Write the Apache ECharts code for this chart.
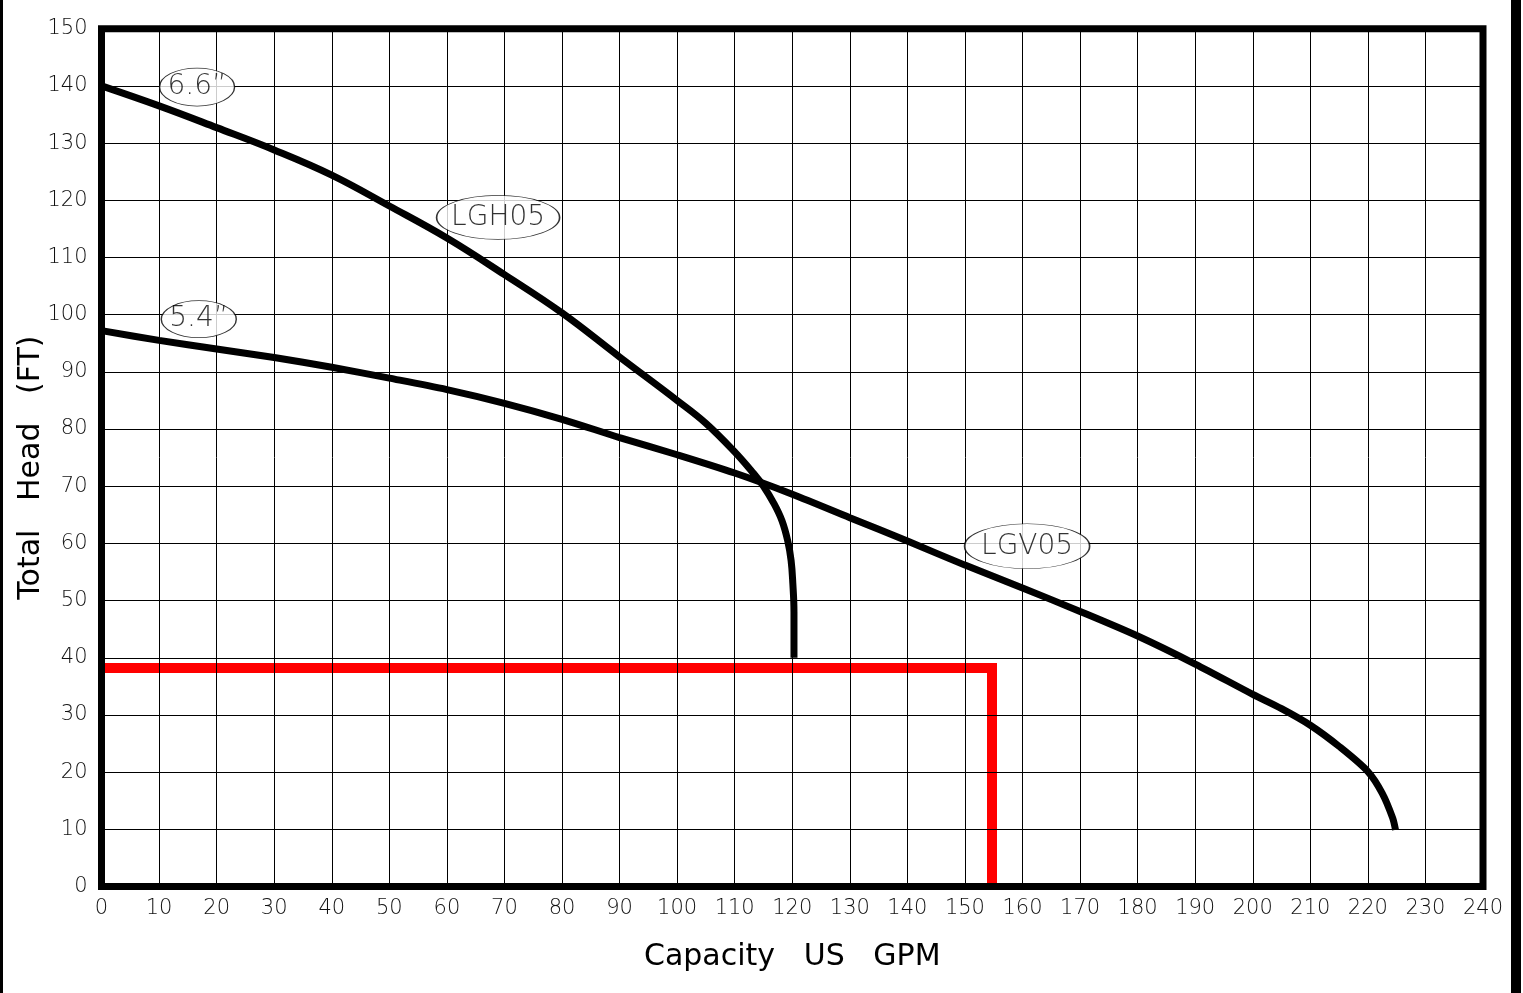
<!DOCTYPE html>
<html>
<head>
<meta charset="utf-8">
<script src="https://cdn.jsdelivr.net/npm/echarts@6/dist/echarts.min.js"></script>
<style>
  html, body { margin: 0; padding: 0; background: #fff; }
  #chart { width: 1523px; height: 993px; }
</style>
</head>
<body>
<div id="chart"></div>
<script>
// pump curves (GPM, FT)
const lgh05 = [
  [0, 140], [10, 136.5], [20, 132.7], [30, 128.8], [40, 124.4], [50, 119],
  [60, 113.4], [70, 107], [80, 100.3], [90, 92.6], [100, 85], [105, 81],
  [110, 76], [113.3, 72.2], [115, 70], [116.8, 67], [118.2, 64], [119.2, 60.5],
  [119.8, 57], [120.1, 53], [120.3, 48], [120.3, 40]
];
const lgv05 = [
  [0, 97.2], [10, 95.5], [20, 94], [30, 92.5], [40, 90.8], [50, 88.9],
  [60, 86.9], [70, 84.5], [80, 81.7], [90, 78.5], [100, 75.5], [110, 72.3],
  [120, 68.6], [130, 64.5], [140, 60.4], [150, 56.2], [160, 52.2], [170, 48.1],
  [180, 43.8], [190, 38.9], [200, 33.6], [205, 31.1], [210, 28.2], [215, 24.5],
  [220, 20.1], [222.5, 16.3], [224.3, 12], [224.8, 9.9]
];
// duty point lines
const dutyLine = [[0, 38.2], [154.7, 38.2], [154.7, 0]];

// curve tags
const tagNames = ['6.6”', '5.4”', 'LGH05', 'LGV05'];
const tagPos = [[16.6, 139.8], [16.9, 99.2], [68.9, 117.0], [160.8, 59.5]];
const tagSize = [[75, 38], [75, 37], [123, 44], [125, 45]];

const chart = echarts.init(document.getElementById('chart'));

const font = 'DejaVu Sans';

chart.setOption({
  animation: false,
  grid: {
    left: 101.5, right: 40, top: 28.7, bottom: 106.5,
    outerBoundsMode: 'none',
    show: true, borderColor: '#000', borderWidth: 7, backgroundColor: 'transparent'
  },
  xAxis: {
    type: 'value', min: 0, max: 240, interval: 10,
    name: 'Capacity   US   GPM', nameLocation: 'middle', nameGap: 56, nameMoveOverlap: false,
    nameTextStyle: { fontFamily: font, fontSize: 30, color: '#000' },
    axisLine: { show: false }, axisTick: { show: false },
    axisLabel: { margin: 12, fontFamily: font, fontWeight: 200, fontSize: 21, color: '#111' },
    splitLine: { show: true, lineStyle: { color: '#000', width: 1 } }
  },
  yAxis: {
    type: 'value', min: 0, max: 150, interval: 10,
    name: 'Total   Head   (FT)', nameLocation: 'middle', nameGap: 55, nameMoveOverlap: false,
    nameTextStyle: { fontFamily: font, fontSize: 30, color: '#000', padding: [0, 20, 0, 0] },
    axisLine: { show: false }, axisTick: { show: false },
    axisLabel: { margin: 14, fontFamily: font, fontWeight: 200, fontSize: 21, color: '#111' },
    splitLine: { show: true, lineStyle: { color: '#000', width: 1 } }
  },
  graphic: [
    { type: 'rect', left: 0, top: 0, shape: { width: 3, height: 993 }, style: { fill: '#000' } },
    { type: 'rect', left: 1511, top: 0, shape: { width: 10, height: 993 }, style: { fill: '#000' } }
  ],
  series: [
    {
      type: 'line', data: dutyLine, z: -1, symbol: 'none',
      lineStyle: { color: '#ff0000', width: 10, join: 'miter' }
    },
    {
      type: 'line', data: lgh05, symbol: 'none', smooth: 0.4,
      lineStyle: { color: '#000', width: 7 }
    },
    {
      type: 'line', data: lgv05, symbol: 'none', smooth: 0.3,
      lineStyle: { color: '#000', width: 7 }
    },
    {
      type: 'scatter', z: 5,
      data: tagNames.map((n, i) => ({
        name: n, value: tagPos[i], symbolSize: tagSize[i]
      })),
      symbol: 'circle',
      itemStyle: { color: '#fff', borderColor: '#000', borderWidth: 1 },
      label: {
        show: true, position: 'inside', formatter: '{b}',
        fontFamily: font, fontWeight: 200, fontSize: 28, color: '#000'
      }
    }
  ]
});
</script>
</body>
</html>
